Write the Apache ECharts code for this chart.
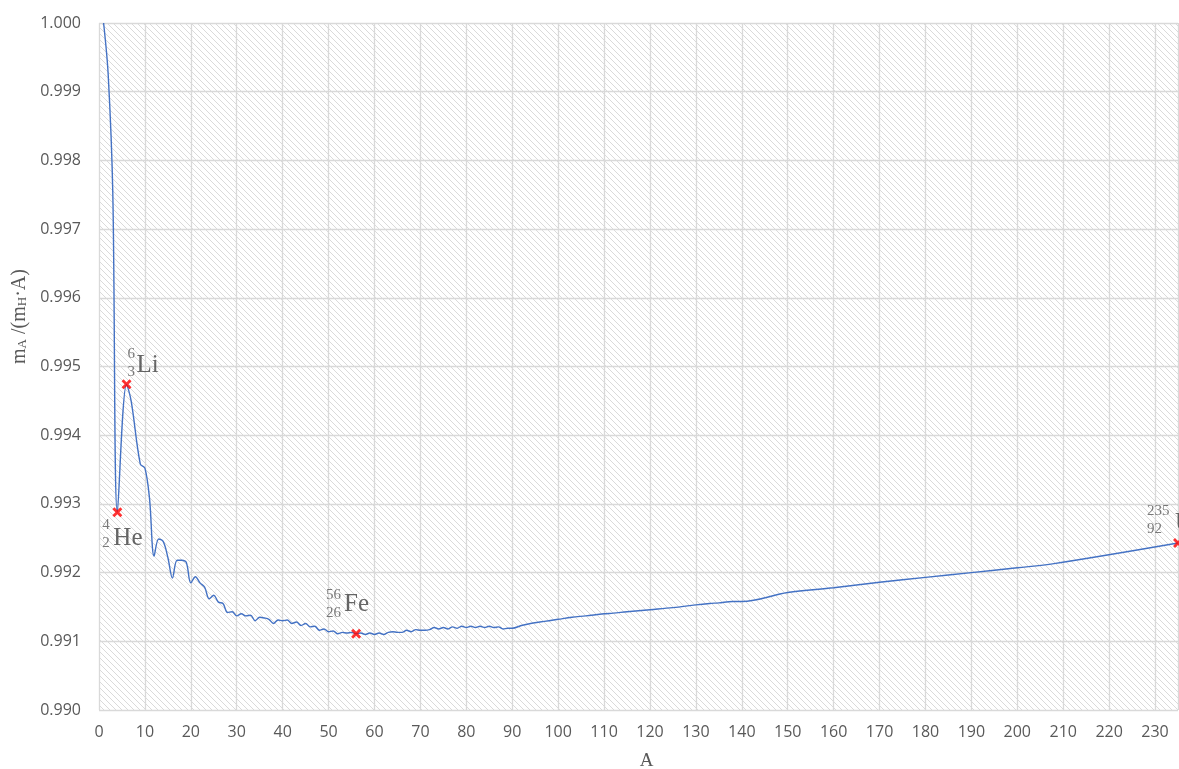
<!DOCTYPE html>
<html>
<head>
<meta charset="utf-8">
<script src="https://cdn.jsdelivr.net/npm/echarts@6/dist/echarts.min.js"></script>
<style>
  html, body { margin: 0; padding: 0; background: #ffffff; }
  #chart { width: 1179px; height: 769px; }
</style>
</head>
<body>
<div id="chart"></div>
<script>
// Mass number A of the isotope plotted at each step
const massNumber = [
  1, 2, 3, 4, 6, 7, 9, 10, 11, 12,
  13, 14, 15, 16, 17, 18, 19, 20, 21, 22,
  23, 24, 25, 26, 27, 28, 29, 30, 31, 32,
  33, 34, 35, 36, 37, 38, 39, 40, 41, 42,
  43, 44, 45, 46, 47, 48, 49, 50, 51, 52,
  53, 54, 55, 56, 57, 58, 59, 60, 61, 62,
  63, 64, 65, 66, 67, 68, 69, 70, 71, 72,
  73, 74, 75, 76, 77, 78, 79, 80, 81, 82,
  83, 84, 85, 86, 87, 88, 89, 90, 92, 94,
  96, 98, 100, 103, 106, 110, 112, 115, 120, 125,
  130, 133, 135, 138, 140, 150, 160, 170, 180, 190,
  200, 208, 235
];

// Atomic mass per nucleon relative to the hydrogen atom, m_A / (m_H · A)
const massRatio = [
  1.00000, 0.99925, 0.99754, 0.99288, 0.99474, 0.99450, 0.99358, 0.99352, 0.99308, 0.99224,
  0.99249, 0.99245, 0.99222, 0.99192, 0.99218, 0.99218, 0.99215, 0.99185, 0.99194, 0.99185,
  0.99179, 0.99162, 0.99167, 0.99157, 0.99155, 0.99142, 0.99143, 0.99137, 0.99140, 0.99137,
  0.99138, 0.99130, 0.99135, 0.99134, 0.99132, 0.99126, 0.99131, 0.99130, 0.99131, 0.99126,
  0.99128, 0.99123, 0.99126, 0.99121, 0.99122, 0.99116, 0.99118, 0.99114, 0.99115, 0.99111,
  0.99113, 0.99112, 0.99113, 0.99111, 0.99112, 0.99110, 0.99112, 0.99110, 0.99112, 0.99110,
  0.99113, 0.99114, 0.99113, 0.99113, 0.99116, 0.99114, 0.99117, 0.99116, 0.99116, 0.99117,
  0.99120, 0.99118, 0.99120, 0.99118, 0.99121, 0.99119, 0.99122, 0.99120, 0.99122, 0.99120,
  0.99122, 0.99120, 0.99122, 0.99120, 0.99121, 0.99118, 0.99119, 0.99119, 0.99123, 0.99126,
  0.99128, 0.99130, 0.99132, 0.99135, 0.99137, 0.99140, 0.99141, 0.99143, 0.99146, 0.99149,
  0.99153, 0.99155, 0.99156, 0.99158, 0.99158, 0.99171, 0.99178, 0.99186, 0.99193, 0.99200,
  0.99207, 0.99213, 0.99243
];

// Highlighted nuclides
const nuclideSymbol = ['He', 'Li', 'Fe', 'U'];
const nuclideA = [4, 6, 56, 235];
const nuclideZ = [2, 3, 26, 92];

// Label placement around each cross (pixel offsets from the marker centre)
const labelPlacement = {
  He: { numbers: [-15, 22], symbol: [-4, 26] },
  Li: { numbers: [1, -21], symbol: [10, -19] },
  Fe: { numbers: [-30, -30], symbol: [-12, -29] },
  U:  { numbers: [-31, -23], symbol: [-3, -20] }
};

const TEXT_GREY = '#595959';
const GRID_GREY = '#d9d9d9';
const SERIF = '"Liberation Serif", "DejaVu Serif", serif';
const SANS = '"Open Sans", "Liberation Sans", sans-serif';

// Diagonal hatch tile used as the plot-area fill
function hatchTile() {
  const size = 6;
  const c = document.createElement('canvas');
  c.width = size; c.height = size;
  const g = c.getContext('2d');
  g.fillStyle = '#ffffff';
  g.fillRect(0, 0, size, size);
  g.strokeStyle = '#dadada';
  g.lineWidth = 1;
  g.beginPath();
  g.moveTo(-1, -1); g.lineTo(size + 1, size + 1);
  g.moveTo(-1, size - 1); g.lineTo(1, size + 1);
  g.moveTo(size - 1, -1); g.lineTo(size + 1, 1);
  g.stroke();
  return c;
}

const curve = massNumber.map((a, i) => [a, massRatio[i]]);
const ratioAt = a => massRatio[massNumber.indexOf(a)];

const crossPath = 'path://M2,0 L5,3 L8,0 L10,2 L7,5 L10,8 L8,10 L5,7 L2,10 L0,8 L3,5 L0,2 Z';

const symbolData = nuclideSymbol.map((s, i) => ({
  value: [nuclideA[i], ratioAt(nuclideA[i])],
  label: {
    show: true,
    position: 'inside',
    align: 'left',
    verticalAlign: 'middle',
    offset: labelPlacement[s].symbol,
    formatter: s,
    fontFamily: SERIF,
    fontSize: 25,
    color: '#404040'
  }
}));

const numberData = nuclideSymbol.map((s, i) => ({
  value: [nuclideA[i], ratioAt(nuclideA[i])],
  label: {
    show: true,
    position: 'inside',
    align: 'left',
    verticalAlign: 'middle',
    offset: labelPlacement[s].numbers,
    formatter: nuclideA[i] + '\n' + nuclideZ[i],
    fontFamily: SERIF,
    fontSize: 15,
    lineHeight: 18,
    color: TEXT_GREY
  }
}));

const chart = echarts.init(document.getElementById('chart'), null, { renderer: 'canvas' });

chart.setOption({
  animation: false,
  grid: {
    left: 99, right: 1, top: 23, bottom: 59,
    outerBoundsMode: 'none',
    containLabel: false,
    show: true,
    borderWidth: 0,
    backgroundColor: { image: hatchTile(), repeat: 'repeat' }
  },
  xAxis: {
    type: 'value',
    min: 0, max: 235, interval: 10,
    name: 'A',
    nameLocation: 'middle',
    nameGap: 42,
    nameTextStyle: {
      fontFamily: SERIF, fontSize: 19, color: TEXT_GREY,
      padding: [0, 0, 0, 16]
    },
    axisLine: { show: false },
    axisTick: { show: false },
    axisLabel: {
      margin: 14, fontFamily: SANS, fontSize: 16, color: TEXT_GREY,
      showMaxLabel: false
    },
    splitLine: { show: true, lineStyle: { color: GRID_GREY, width: 1.3 } }
  },
  yAxis: {
    type: 'value',
    min: 0.990, max: 1.000, interval: 0.001,
    name: '{m|m}{s|A}{m| /(m}{s|H}{m|·A)}',
    nameLocation: 'middle',
    nameGap: 66,
    nameTextStyle: {
      // shifts the rotated title upwards along the axis
      padding: [0, 0, 0, 100],
      rich: {
        m: { fontFamily: SERIF, fontSize: 20, color: TEXT_GREY, lineHeight: 22, verticalAlign: 'bottom' },
        s: { fontFamily: SERIF, fontSize: 13, color: TEXT_GREY, lineHeight: 22, verticalAlign: 'bottom' }
      }
    },
    axisLine: { show: false },
    axisTick: { show: false },
    axisLabel: {
      margin: 18, fontFamily: SANS, fontSize: 16, color: TEXT_GREY,
      formatter: v => v.toFixed(3)
    },
    splitLine: { show: true, lineStyle: { color: GRID_GREY, width: 1.3 } }
  },
  series: [
    {
      type: 'line',
      data: curve,
      showSymbol: false,
      smooth: 0.35,
      lineStyle: { color: '#4472c4', width: 1.4 },
      z: 3
    },
    {
      type: 'scatter',
      data: numberData,
      symbolSize: 1,
      itemStyle: { color: 'rgba(0,0,0,0)' },
      z: 4
    },
    {
      type: 'scatter',
      data: symbolData,
      symbol: crossPath,
      symbolSize: 10,
      itemStyle: { color: '#ff0000' },
      z: 5
    }
  ]
});
</script>
</body>
</html>
